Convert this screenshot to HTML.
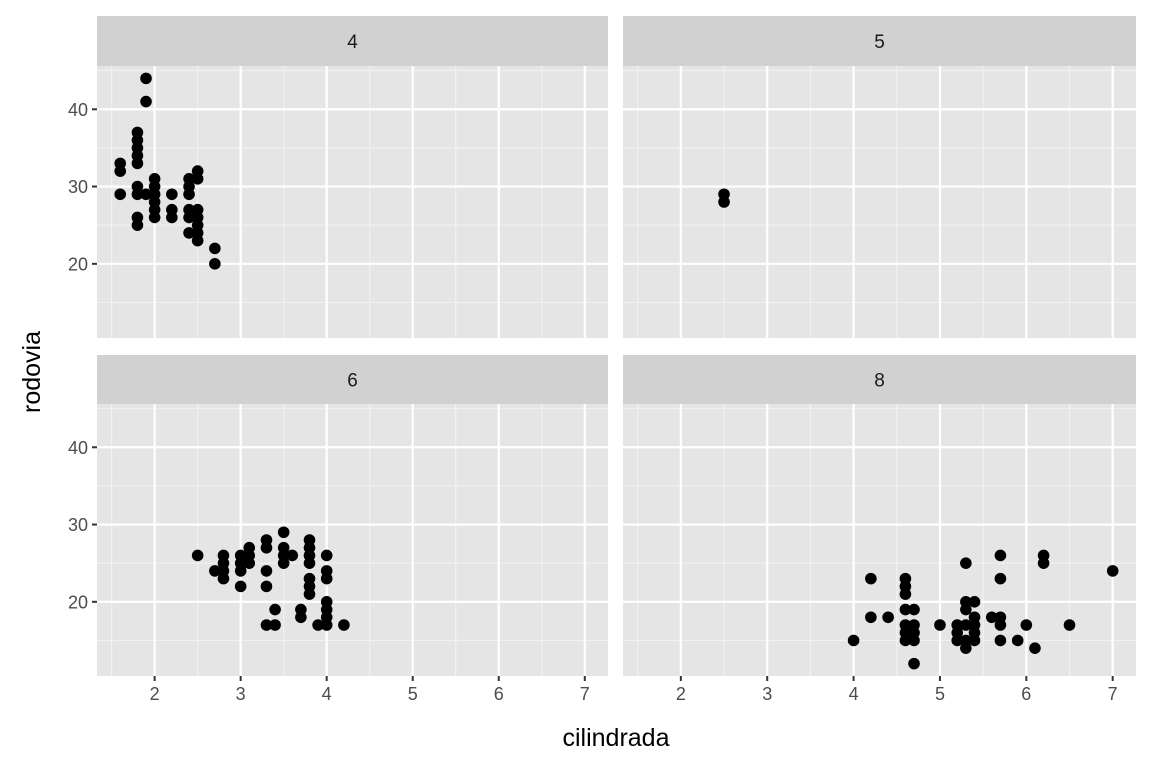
<!DOCTYPE html>
<html><head><meta charset="utf-8"><style>
body{margin:0;background:#fff}
svg{display:block;font-family:"Liberation Sans",sans-serif}
</style></head><body>
<svg id="chart" width="1152" height="768">
<text x="616" y="746" font-size="25" text-anchor="middle" fill="#000">cilindrada</text>
<text transform="translate(40,372) rotate(-90)" font-size="25" text-anchor="middle" fill="#000">rodovia</text>
</svg>
<script>
const facetLabels=["4","5","6","8"];
const cyl4X=[1.6,1.6,1.6,1.8,1.8,1.8,1.8,1.8,1.8,1.8,1.8,1.8,1.9,1.9,1.9,2.0,2.0,2.0,2.0,2.0,2.0,2.2,2.2,2.2,2.4,2.4,2.4,2.4,2.4,2.4,2.5,2.5,2.5,2.5,2.5,2.5,2.5,2.7,2.7];
const cyl4Y=[33,32,29,37,36,35,34,33,30,29,26,25,44,41,29,31,30,29,28,27,26,29,27,26,31,30,29,27,26,24,32,31,27,26,25,24,23,22,20];
const cyl5X=[2.5,2.5];
const cyl5Y=[29,28];
const cyl6X=[2.5,2.7,2.8,2.8,2.8,2.8,3.0,3.0,3.0,3.0,3.1,3.1,3.1,3.3,3.3,3.3,3.3,3.3,3.4,3.4,3.5,3.5,3.5,3.5,3.6,3.7,3.7,3.8,3.8,3.8,3.8,3.8,3.8,3.8,3.9,4.0,4.0,4.0,4.0,4.0,4.0,4.0,4.2];
const cyl6Y=[26,24,26,25,24,23,26,25,24,22,26,25,27,28,27,24,22,17,19,17,29,27,26,25,26,19,18,28,27,26,25,23,22,21,17,26,24,23,20,19,18,17,17];
const cyl8X=[4.0,4.2,4.2,4.4,4.6,4.6,4.6,4.6,4.6,4.6,4.6,4.7,4.7,4.7,4.7,4.7,5.0,5.2,5.2,5.2,5.3,5.3,5.3,5.3,5.3,5.3,5.4,5.4,5.4,5.4,5.4,5.6,5.7,5.7,5.7,5.7,5.7,5.9,6.0,6.1,6.2,6.2,6.5,7.0];
const cyl8Y=[15,23,18,18,23,22,21,19,17,16,15,19,17,16,15,12,17,17,16,15,25,20,19,17,15,14,20,18,17,16,15,18,26,23,18,17,15,15,17,14,26,25,17,24];
const xTicks=[2,3,4,5,6,7];
const yTicks=[20,30,40];
const xMinor=[1.5,2.5,3.5,4.5,5.5,6.5];
const yMinor=[15,25,35,45];

const NS="http://www.w3.org/2000/svg";
const svg=document.getElementById('chart');
function mk(tag,attrs,parent){const e=document.createElementNS(NS,tag);for(const k in attrs)e.setAttribute(k,attrs[k]);(parent||svg).appendChild(e);return e;}
const xMin=1.33,xMax=7.27,yMin=10.4,yMax=45.6;
const panels=[
 {l:97,r:608,st:16,t:66,b:338,xs:cyl4X,ys:cyl4Y,left:true,bottom:false},
 {l:623,r:1136,st:16,t:66,b:338,xs:cyl5X,ys:cyl5Y,left:false,bottom:false},
 {l:97,r:608,st:355,t:404,b:676,xs:cyl6X,ys:cyl6Y,left:true,bottom:true},
 {l:623,r:1136,st:355,t:404,b:676,xs:cyl8X,ys:cyl8Y,left:false,bottom:true}];
panels.forEach((p,i)=>{
 const sx=v=>p.l+(v-xMin)/(xMax-xMin)*(p.r-p.l);
 const sy=v=>p.b-(v-yMin)/(yMax-yMin)*(p.b-p.t);
 const g=mk('g',{});
 
 
 const strip=mk('rect',{x:p.l,y:p.st,width:p.r-p.l,height:p.t-p.st,fill:'#d1d1d1'},g);
 
 
 const st=mk('text',{x:(p.l+p.r)/2,y:(p.st+p.t)/2+7,'font-size':19,'text-anchor':'middle',fill:'#1a1a1a'},g);
 st.textContent=facetLabels[i];
 
 
 const bg=mk('rect',{x:p.l,y:p.t,width:p.r-p.l,height:p.b-p.t,fill:'#e5e5e5'},g);
 
 
 xMinor.forEach(v=>{const l=mk('line',{x1:sx(v),x2:sx(v),y1:p.t,y2:p.b,stroke:'#f2f2f2','stroke-width':1.1},g);});
 yMinor.forEach(v=>{const l=mk('line',{x1:p.l,x2:p.r,y1:sy(v),y2:sy(v),stroke:'#f2f2f2','stroke-width':1.1},g);});
 xTicks.forEach(v=>{const l=mk('line',{x1:sx(v),x2:sx(v),y1:p.t,y2:p.b,stroke:'#fff','stroke-width':2.2},g);
  if(p.bottom){const tk=mk('line',{x1:sx(v),x2:sx(v),y1:p.b,y2:p.b+5,stroke:'#333','stroke-width':2},g);
   const t=mk('text',{x:sx(v),y:p.b+24,'font-size':18,'text-anchor':'middle',fill:'#4d4d4d'},g);t.textContent=v;}});
 yTicks.forEach(v=>{const l=mk('line',{x1:p.l,x2:p.r,y1:sy(v),y2:sy(v),stroke:'#fff','stroke-width':2.2},g);
  if(p.left){const tk=mk('line',{x1:p.l-5,x2:p.l,y1:sy(v),y2:sy(v),stroke:'#333','stroke-width':2},g);
   const t=mk('text',{x:p.l-9,y:sy(v)+6.5,'font-size':18,'text-anchor':'end',fill:'#4d4d4d'},g);t.textContent=v;}});
 p.xs.forEach((x,j)=>{const c=mk('circle',{cx:sx(x),cy:sy(p.ys[j]),r:5.8,fill:'#000'},g);});
});
</script>
</body></html>
